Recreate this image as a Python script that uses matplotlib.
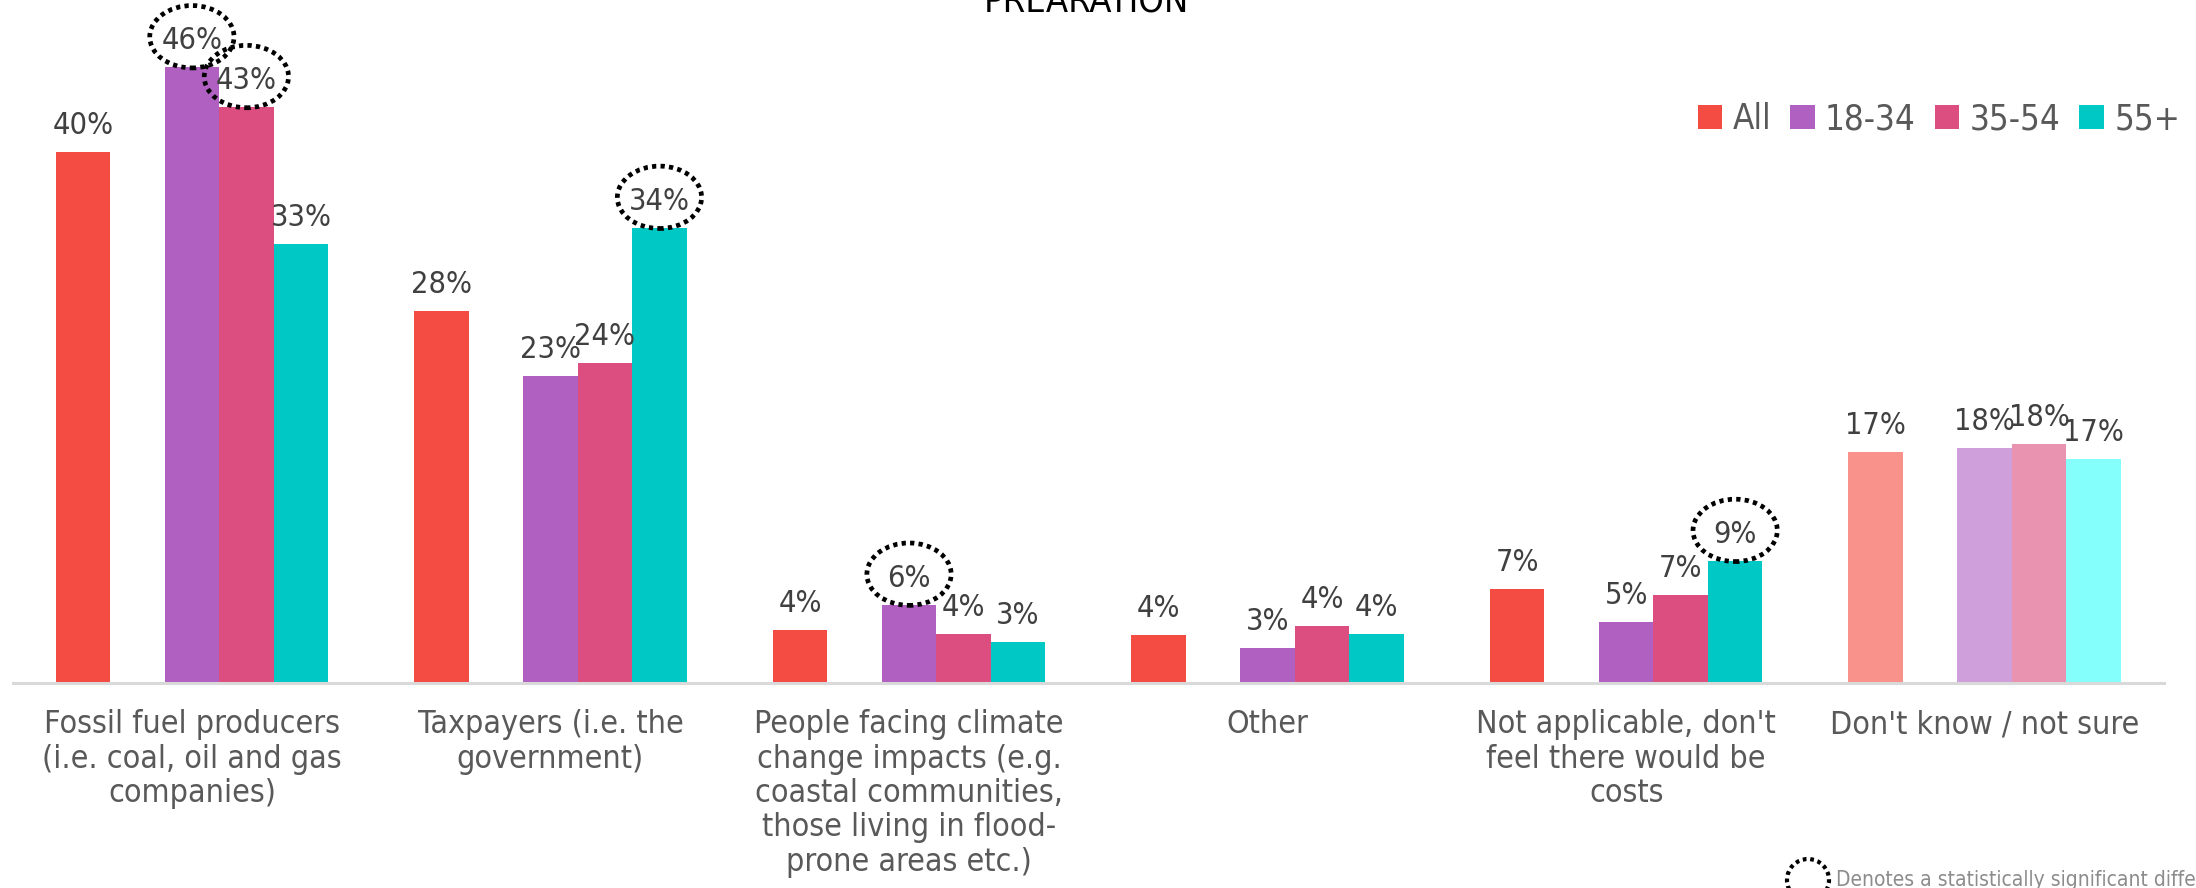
import matplotlib
matplotlib.use("Agg")
from matplotlib import pyplot as plt
from matplotlib.patches import Ellipse

# Who should bear the costs -- share of respondents by age band
categories = ["Fossil fuel producers\n(i.e. coal, oil and gas\ncompanies)",
              "Taxpayers (i.e. the\ngovernment)",
              "People facing climate\nchange impacts (e.g.\ncoastal communities,\nthose living in flood-\nprone areas etc.)",
              "Other",
              "Not applicable, don't\nfeel there would be\ncosts",
              "Don't know / not sure"]
series_names = ["All", "18-34", "35-54", "55+"]
values_all = [40.0, 28.0, 4.0, 3.6, 7.1, 17.4]
values_18_34 = [46.4, 23.1, 5.9, 2.6, 4.6, 17.7]
values_35_54 = [43.4, 24.1, 3.7, 4.3, 6.6, 18.0]
values_55_plus = [33.1, 34.3, 3.1, 3.7, 9.2, 16.9]
# (category index, series index) of statistically significant differences
significant = [(0, 1), (0, 2), (1, 3), (2, 1), (4, 3)]

colors_main = ["#F44B42", "#AF60C0", "#DD4E80", "#00C8C5"]
colors_light = ["#F8928A", "#CE9FDB", "#E993B1", "#85FFFB"]

W, H = 2196, 888
fig = plt.figure(figsize=(W / 100, H / 100), dpi=100)
plt.rcParams['font.stretch'] = 'condensed'
ax = fig.add_axes([12.6 / W, 1 - 683 / H, (2164 - 12.6) / W, 683 / H])

barWidth = 0.152
offsets = [-2 * barWidth, 0.0, barWidth, 2 * barWidth]
allSeries = [values_all, values_18_34, values_35_54, values_55_plus]
xs = range(len(categories))

bars = []
for s, (vals, off) in enumerate(zip(allSeries, offsets)):
    # the last group ("Don't know") is drawn in lighter tints
    cols = [colors_main[s]] * (len(categories) - 1) + [colors_light[s]]
    b = ax.bar([x + off for x in xs], vals, width=barWidth, color=cols,
               label=series_names[s], linewidth=0)
    bars.append(b)
    for x, v in zip(xs, vals):
        ax.annotate(f"{v:.0f}%", (x + off, v), xytext=(0, 13), textcoords="offset points",
                    ha="center", va="baseline", fontsize=22, color="#404040")

# dotted rings round the significant values
for c, s in significant:
    v = allSeries[s][c]
    ax.add_patch(Ellipse((c + offsets[s], v + 2.3), 0.235, 4.7, fill=False,
                         edgecolor="black", linewidth=3.4, linestyle=(0, (0.9, 0.9)),
                         clip_on=False, zorder=5))

ax.set_xlim(-0.5, len(categories) - 0.5)
ax.set_ylim(0, 683 / 13.27)
ax.set_xticks(list(xs))
ax.set_xticklabels(categories, fontsize=23, color="#595959", linespacing=1.14)
ax.tick_params(axis="x", length=0, pad=19)
ax.set_yticks([])
for side in ["top", "left", "right"]:
    ax.spines[side].set_visible(False)
ax.spines["bottom"].set_color("#D9D9D9")
ax.spines["bottom"].set_linewidth(2.2)

leg = fig.legend(handles=[b[0] for b in bars], labels=series_names, loc="center right",
                 bbox_to_anchor=(2180 / W, 1 - 119 / H), ncol=4, frameon=False,
                 fontsize=25, handlelength=0.7, handleheight=0.7, handletextpad=0.3,
                 columnspacing=0.55, borderpad=0, borderaxespad=0, labelcolor="#595959")

# chart title, mostly above the top edge
fig.text(1086 / W, 1 - 12 / H, "PREARATION", ha="center", va="baseline",
         fontsize=26, color="black")

# footnote key
fig.add_artist(Ellipse((1808 / W, 1 - 880 / H), 42 / W, 42 / H, transform=fig.transFigure,
                       fill=False, edgecolor="black", linewidth=3.0,
                       linestyle=(0, (0.9, 0.9)), clip_on=False))
fig.text(1836 / W, 1 - 886 / H, "Denotes a statistically significant difference",
         ha="left", va="baseline", fontsize=15, color="#8C8C8C")

fig.savefig("out.png", dpi=100)
